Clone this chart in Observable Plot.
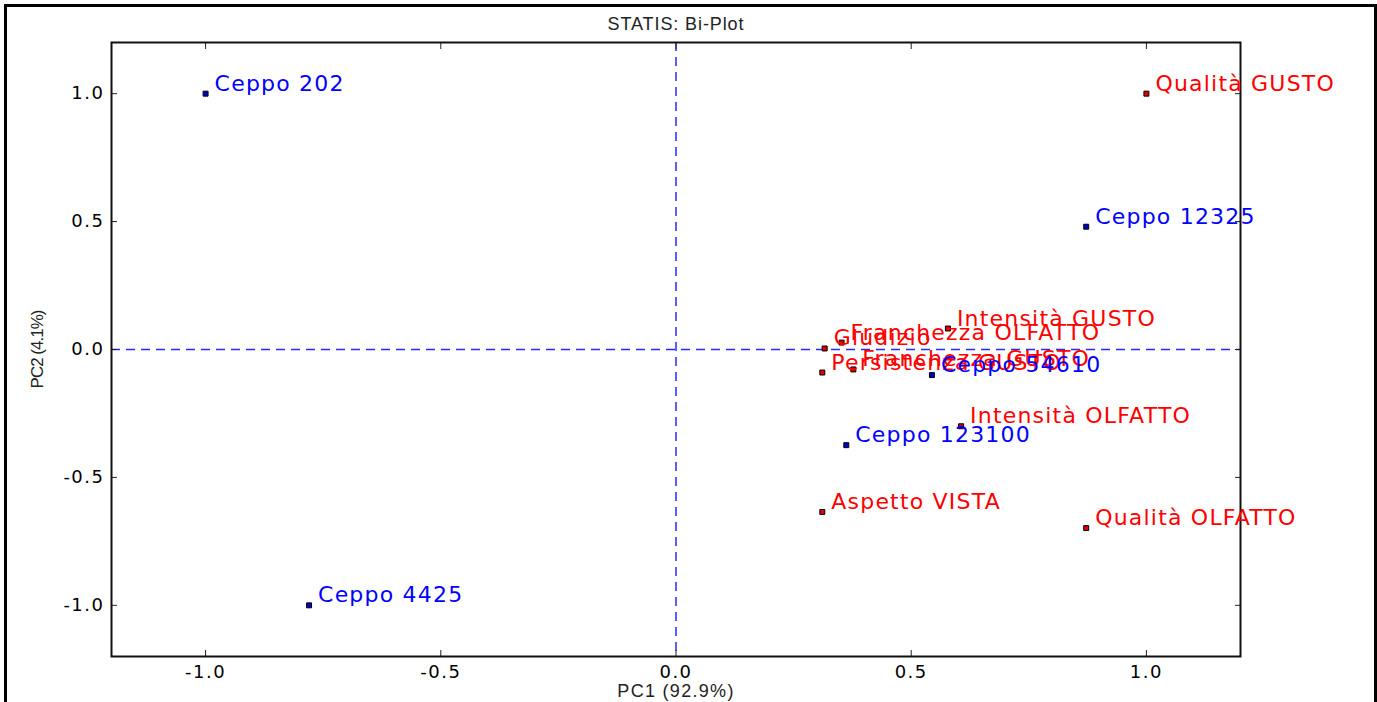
<!DOCTYPE html>
<html><head><meta charset="utf-8">
<script src="https://cdn.jsdelivr.net/npm/d3@7"></script>
<script src="https://cdn.jsdelivr.net/npm/@observablehq/plot@0.6"></script>
<style>
html,body{margin:0;padding:0;background:#fff;overflow:hidden;width:1377px;height:702px;}
#chart{position:absolute;left:0;top:0;}
#border{position:absolute;left:4px;top:4px;width:1367px;height:800px;border:3px solid #000;pointer-events:none;}
g[aria-label="x-axis tick label"] text, g[aria-label="y-axis tick label"] text{letter-spacing:1.5px;}
</style></head><body>
<div id="chart"></div><div id="border"></div>
<script>
// Data
const chartTitle = "STATIS: Bi-Plot";
const xLabel = "PC1 (92.9%)";
const yLabel = "PC2 (4.1%)";
const xTicks = [-1.0, -0.5, 0.0, 0.5, 1.0];
const yTicks = [-1.0, -0.5, 0.0, 0.5, 1.0];

const strains = ["Ceppo 202", "Ceppo 4425", "Ceppo 12325", "Ceppo 54610", "Ceppo 123100"];
const strainPC1 = [-1.0, -0.78, 0.872, 0.544, 0.362];
const strainPC2 = [1.0, -1.0, 0.48, -0.10, -0.374];

const attributes = ["Qualità GUSTO", "Intensità GUSTO", "Giudizio", "Franchezza OLFATTO", "Persistenza GUSTO", "Franchezza GUSTO", "Intensità OLFATTO", "Aspetto VISTA", "Qualità OLFATTO"];
const attrPC1 = [1.0, 0.578, 0.316, 0.352, 0.311, 0.377, 0.606, 0.311, 0.872];
const attrPC2 = [1.0, 0.082, 0.004, 0.027, -0.09, -0.078, -0.30, -0.635, -0.698];

const strainRows = strains.map((name, i) => ({name, pc1: strainPC1[i], pc2: strainPC2[i]}));
const attrRows = attributes.map((name, i) => ({name, pc1: attrPC1[i], pc2: attrPC2[i]}));

const blue = "#0000ff", red = "#ff0000";
const fmt = d => d.toFixed(1);

const plot = Plot.plot({
  width: 1377, height: 702,
  marginLeft: 111, marginRight: 137, marginTop: 42, marginBottom: 46,
  style: {background: "transparent", fontFamily: "DejaVu Sans", color: "#000"},
  x: {domain: [-1.2, 1.2], label: null},
  y: {domain: [-1.2, 1.2], label: null},
  marks: [
    Plot.ruleX([0], {stroke: "#2a2aff", strokeWidth: 1.5, strokeDasharray: "9,6"}),
    Plot.ruleY([0], {stroke: "#2a2aff", strokeWidth: 1.5, strokeDasharray: "9,6"}),
    // tick labels
    Plot.axisX(xTicks, {anchor: "bottom", tickSize: 0, tickPadding: 9, tickFormat: fmt, fontSize: 18, fontFamily: "DejaVu Sans", label: null}),
    Plot.axisY(yTicks, {anchor: "left", tickSize: 0, tickPadding: 7, tickFormat: fmt, fontSize: 18, fontFamily: "DejaVu Sans", label: null}),
    // inward ticks on all four sides
    Plot.axisX(xTicks, {anchor: "bottom", tickSize: -6, tickFormat: () => "", label: null, stroke: "#222"}),
    Plot.axisX(xTicks, {anchor: "top", tickSize: -6, tickFormat: () => "", label: null, stroke: "#222"}),
    Plot.axisY(yTicks, {anchor: "left", tickSize: -6, tickFormat: () => "", label: null, stroke: "#222"}),
    Plot.axisY(yTicks, {anchor: "right", tickSize: -6, tickFormat: () => "", label: null, stroke: "#222"}),
    Plot.frame({stroke: "#111", strokeWidth: 2}),
    // points
    Plot.dot(strainRows, {x: "pc1", y: "pc2", symbol: "square", r: 2.8, fill: "#0000cc", stroke: "#000", strokeWidth: 1}),
    Plot.dot(attrRows, {x: "pc1", y: "pc2", symbol: "square", r: 2.8, fill: "#dd0000", stroke: "#000", strokeWidth: 1}),
    Plot.text(attrRows, {x: "pc1", y: "pc2", text: "name", fill: red, textAnchor: "start", lineAnchor: "bottom", dx: 9, dy: -3, fontSize: 22, fontFamily: "DejaVu Sans"}),
    Plot.text(strainRows, {x: "pc1", y: "pc2", text: "name", fill: blue, textAnchor: "start", lineAnchor: "bottom", dx: 9, dy: -3, fontSize: 22, fontFamily: "DejaVu Sans"}),
    // titles
    Plot.text([chartTitle], {frameAnchor: "top", dy: -18, textAnchor: "middle", lineAnchor: "middle", fontSize: 18, fontFamily: "Liberation Sans", fill: "#222"}),
    Plot.text([xLabel], {frameAnchor: "bottom", dy: 35, textAnchor: "middle", lineAnchor: "middle", fontSize: 18, fontFamily: "Liberation Sans", fill: "#222"}),
    Plot.text([yLabel], {frameAnchor: "left", dx: -74, rotate: -90, textAnchor: "middle", lineAnchor: "middle", fontSize: 17, fontFamily: "Liberation Sans", fill: "#222"})
  ]
});

// horizontal stretch of the reference rendering, approximated with letter spacing
const spacing = new Map([[chartTitle, "0.9px"], [xLabel, "1.3px"], [yLabel, "-1px"]]);
strains.forEach(s => spacing.set(s, "1.2px"));
attributes.forEach(s => spacing.set(s, "1.2px"));
d3.select(plot).selectAll('g[aria-label="text"] text').each(function() {
  const ls = spacing.get(this.textContent);
  if (ls) this.style.letterSpacing = ls;
});
document.getElementById("chart").appendChild(plot);
</script>
</body></html>
